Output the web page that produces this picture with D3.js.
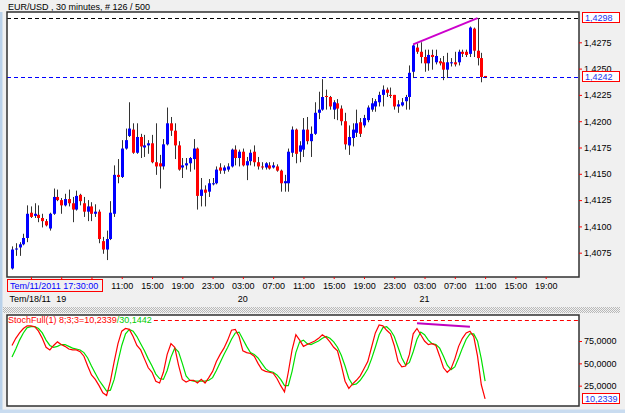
<!DOCTYPE html>
<html><head><meta charset="utf-8">
<script src="https://cdn.jsdelivr.net/npm/d3@7"></script>
<style>body{margin:0;background:#f0f0f0;overflow:hidden}svg{display:block;font-family:"Liberation Sans",Arial,sans-serif}</style>
</head><body><svg id="c" width="625" height="413"></svg>
<script>
// ---- data (EUR/USD, 30 minutes) ----
const openP = [
1.4060,1.4078,1.4080,1.4083,1.4089,1.4113,1.4110,1.4111,1.4108,1.4105,
1.4098,1.4112,1.4128,1.4125,1.4120,1.4126,1.4122,1.4116,1.4130,1.4122,
1.4114,1.4119,1.4112,1.4114,1.4086,1.4078,1.4088,1.4112,1.4149,1.4147,
1.4174,1.4186,1.4192,1.4170,1.4185,1.4175,1.4177,1.4179,1.4161,1.4160,
1.4157,1.4178,1.4198,1.4191,1.4177,1.4156,1.4158,1.4160,1.4164,1.4174,
1.4129,1.4135,1.4133,1.4140,1.4141,1.4156,1.4153,1.4154,1.4157,1.4173,
1.4165,1.4171,1.4158,1.4162,1.4171,1.4161,1.4157,1.4156,1.4158,1.4156,
1.4157,1.4153,1.4141,1.4141,1.4170,1.4192,1.4171,1.4173,1.4192,1.4181,
1.4188,1.4208,1.4211,1.4224,1.4223,1.4211,1.4217,1.4212,1.4200,1.4177,
1.4184,1.4189,1.4199,1.4196,1.4201,1.4211,1.4214,1.4218,1.4225,1.4230,
1.4225,1.4225,1.4214,1.4215,1.4219,1.4223,1.4247,1.4270,1.4266,1.4261,
1.4255,1.4263,1.4256,1.4257,1.4256,1.4249,1.4255,1.4256,1.4256,1.4266,
1.4266,1.4264,1.4288,1.4267,1.4260,1.4243];
const closeP = [
1.4078,1.4079,1.4083,1.4089,1.4112,1.4109,1.4112,1.4108,1.4105,1.4101,
1.4112,1.4128,1.4125,1.4120,1.4126,1.4122,1.4116,1.4129,1.4124,1.4114,
1.4119,1.4112,1.4114,1.4088,1.4078,1.4088,1.4113,1.4149,1.4147,1.4174,
1.4182,1.4193,1.4170,1.4185,1.4176,1.4177,1.4179,1.4161,1.4157,1.4157,
1.4178,1.4198,1.4191,1.4177,1.4154,1.4158,1.4160,1.4165,1.4174,1.4129,
1.4135,1.4132,1.4141,1.4141,1.4154,1.4153,1.4156,1.4157,1.4173,1.4165,
1.4171,1.4158,1.4162,1.4170,1.4161,1.4157,1.4156,1.4160,1.4155,1.4158,
1.4153,1.4141,1.4143,1.4171,1.4192,1.4169,1.4177,1.4192,1.4181,1.4188,
1.4208,1.4211,1.4223,1.4223,1.4214,1.4218,1.4212,1.4200,1.4178,1.4185,
1.4192,1.4198,1.4188,1.4203,1.4213,1.4217,1.4219,1.4225,1.4230,1.4227,
1.4224,1.4214,1.4216,1.4218,1.4223,1.4246,1.4272,1.4266,1.4261,1.4255,
1.4263,1.4261,1.4262,1.4255,1.4249,1.4256,1.4256,1.4254,1.4266,1.4264,
1.4263,1.4289,1.4267,1.4260,1.4242,1.4242];
const highP = [
1.4081,1.4084,1.4085,1.4093,1.4120,1.4119,1.4122,1.4120,1.4112,1.4107,
1.4113,1.4136,1.4135,1.4127,1.4131,1.4135,1.4128,1.4134,1.4131,1.4128,
1.4125,1.4123,1.4121,1.4116,1.4090,1.4096,1.4124,1.4158,1.4164,1.4182,
1.4193,1.4218,1.4198,1.4198,1.4188,1.4187,1.4182,1.4187,1.4198,1.4168,
1.4183,1.4213,1.4204,1.4198,1.4181,1.4165,1.4165,1.4166,1.4183,1.4175,
1.4146,1.4139,1.4145,1.4146,1.4157,1.4160,1.4158,1.4160,1.4174,1.4177,
1.4173,1.4174,1.4166,1.4173,1.4177,1.4166,1.4161,1.4161,1.4161,1.4161,
1.4159,1.4154,1.4149,1.4174,1.4195,1.4193,1.4181,1.4203,1.4204,1.4195,
1.4218,1.4228,1.4240,1.4230,1.4224,1.4220,1.4221,1.4215,1.4208,1.4196,
1.4198,1.4211,1.4203,1.4206,1.4215,1.4222,1.4221,1.4228,1.4234,1.4232,
1.4232,1.4225,1.4220,1.4222,1.4225,1.4253,1.4273,1.4274,1.4275,1.4268,
1.4268,1.4268,1.4268,1.4260,1.4262,1.4265,1.4260,1.4266,1.4268,1.4268,
1.4268,1.4290,1.4289,1.4298,1.4265,1.4243];
const lowP = [
1.4059,1.4072,1.4072,1.4082,1.4085,1.4108,1.4108,1.4104,1.4099,1.4100,
1.4096,1.4111,1.4124,1.4112,1.4119,1.4119,1.4104,1.4115,1.4120,1.4109,
1.4105,1.4105,1.4109,1.4084,1.4074,1.4068,1.4087,1.4109,1.4141,1.4146,
1.4173,1.4185,1.4169,1.4169,1.4165,1.4166,1.4169,1.4160,1.4149,1.4136,
1.4154,1.4177,1.4186,1.4164,1.4153,1.4146,1.4154,1.4152,1.4154,1.4116,
1.4119,1.4119,1.4128,1.4139,1.4140,1.4150,1.4150,1.4152,1.4156,1.4158,
1.4157,1.4157,1.4144,1.4158,1.4157,1.4154,1.4154,1.4154,1.4154,1.4155,
1.4152,1.4133,1.4133,1.4133,1.4166,1.4160,1.4161,1.4166,1.4178,1.4166,
1.4187,1.4202,1.4210,1.4211,1.4211,1.4202,1.4201,1.4196,1.4173,1.4168,
1.4176,1.4185,1.4185,1.4194,1.4199,1.4209,1.4209,1.4214,1.4214,1.4223,
1.4222,1.4211,1.4208,1.4214,1.4211,1.4211,1.4241,1.4264,1.4255,1.4247,
1.4248,1.4249,1.4254,1.4253,1.4239,1.4241,1.4252,1.4252,1.4253,1.4261,
1.4261,1.4261,1.4261,1.4253,1.4237,1.4241];
// StochFull(8;3;3) %K (red) and %D (green)
const stochK = [
70,78,84,89,92,92,91,86,78,68,
65,70,74,71,69,66,65,65,63,58,
47,37,32,25,17,14,30,52,72,86,
89,88,80,70,65,55,45,40,30,28,
40,60,72,68,48,32,29,31,31,28,
32,28,34,41,52,60,67,76,87,88,
80,64,62,61,58,50,43,41,40,39,
33,25,18,40,65,82,76,69,71,73,
75,78,82,79,74,68,64,48,30,22,
27,31,36,44,52,68,84,93,92,87,
83,70,52,46,47,60,83,89,82,75,
71,72,70,58,45,40,44,55,69,78,
84,86,80,58,26,10.2339];
const stochD = [
57,66,76,84,90,91,91,89,84,76,
70,68,69,71,71,69,67,66,65,62,
56,47,39,31,25,19,20,32,52,70,
83,88,86,80,72,64,55,47,38,33,
32,42,57,67,63,50,36,31,30,30,
30,30,31,34,42,51,60,68,77,84,
85,77,69,62,60,56,50,44,41,40,
37,32,25,25,41,62,74,76,72,71,
73,75,78,80,78,74,68,59,47,33,
26,27,31,37,44,55,68,82,90,91,
87,80,68,56,48,51,63,77,85,82,
76,72,71,67,58,48,43,46,56,67,
77,83,83,75,55,30.1442];
const stochLevel = 98;
const priceTicks = [1.4075,1.4100,1.4125,1.4150,1.4175,1.4200,1.4225,1.4250,1.4275];
const stochTicks = [25,50,75];
const timeTickIndex = [5,13,21,29,37,45,53,61,69,77,85,93,101,109,117,125,133,141];
const timeTickLabels = ["","","","11:00","15:00","19:00","23:00","03:00","07:00","11:00","15:00","19:00","23:00","03:00","07:00","11:00","15:00","19:00"];
const dateTickIndex = [13,61,109];
const dateTickLabels = ["19","20","21"];
const priceDivIndex = [106,123];
const priceDivValue = [1.4273,1.4298];
const stochDivIndex = [107,121];
const stochDivValue = [95,91];
const titleText = "EUR/USD , 30 minutes, # 126 / 500";
const cursorText = "Tem/11/2011 17:30:00";
const firstDateText = "Tem/18/11";

// ---- layout ----
const svg = d3.select("#c");
const L = 7, R = 579, PT = 12, PB = 277, ST = 315, SB = 406;
const n = closeP.length;
const x = d3.scaleLinear().domain([0, n - 1]).range([12, 485.1]);
const yP = d3.scaleLinear().domain([1.4075, 1.4275]).range([252.7, 42.3]);
const yS = d3.scaleLinear().domain([0, 75]).range([408, 341]);
const fmtP = d => d3.format(".4f")(d).replace(".", ",");
const FS = 9;

svg.append("rect").attr("width", 625).attr("height", 413).attr("fill", "#f0f0f0");
svg.append("rect").attr("x", 0).attr("y", 12).attr("width", 2.5).attr("height", 401).attr("fill", "#b9d1ea");
svg.append("rect").attr("x", 0).attr("y", 409.5).attr("width", 625).attr("height", 4).attr("fill", "#c9dcf0");

// splitter
const defs = svg.append("defs");
const pat = defs.append("pattern").attr("id", "dots").attr("width", 2).attr("height", 2).attr("patternUnits", "userSpaceOnUse");
pat.append("rect").attr("width", 2).attr("height", 2).attr("fill", "#f2f2f2");
pat.append("rect").attr("width", 1).attr("height", 1).attr("fill", "#b8b8b8");
pat.append("rect").attr("x", 1).attr("y", 1).attr("width", 1).attr("height", 1).attr("fill", "#b8b8b8");
svg.append("rect").attr("x", 3).attr("y", 307).attr("width", 617).attr("height", 6).attr("fill", "url(#dots)");

defs.append("clipPath").attr("id", "clipP").append("rect").attr("x", L).attr("y", PT).attr("width", R - L).attr("height", PB - PT);
defs.append("clipPath").attr("id", "clipS").append("rect").attr("x", L).attr("y", ST).attr("width", R - L).attr("height", SB - ST);

// panels
svg.append("rect").attr("x", L).attr("y", PT).attr("width", R - L).attr("height", PB - PT).attr("fill", "#fff");
svg.append("rect").attr("x", L).attr("y", ST).attr("width", R - L).attr("height", SB - ST).attr("fill", "#fff");

// title
svg.append("text").attr("x", 8).attr("y", 9.5).attr("font-size", FS).attr("fill", "#000").text(titleText);

// price panel
const gp = svg.append("g").attr("clip-path", "url(#clipP)");
const maxHigh = d3.max(highP);
const lastClose = closeP[n - 1];
gp.append("line").attr("x1", L).attr("x2", R).attr("y1", Math.round(yP(maxHigh)) + 0.5).attr("y2", Math.round(yP(maxHigh)) + 0.5)
  .attr("stroke", "#000").attr("stroke-dasharray", "4,3");
gp.append("line").attr("x1", L).attr("x2", R).attr("y1", Math.round(yP(lastClose)) + 0.5).attr("y2", Math.round(yP(lastClose)) + 0.5)
  .attr("stroke", "#0000ff").attr("stroke-width", 1.2).attr("stroke-dasharray", "4,3");

const idx = d3.range(n);
gp.selectAll("line.wick").data(idx).join("line").attr("class", "wick")
  .attr("x1", i => Math.round(x(i)) + 0.5).attr("x2", i => Math.round(x(i)) + 0.5)
  .attr("y1", i => yP(highP[i])).attr("y2", i => yP(lowP[i]))
  .attr("stroke", "#333").attr("stroke-width", 1);
gp.selectAll("rect.body").data(idx).join("rect").attr("class", "body")
  .attr("x", i => Math.round(x(i)) - 1).attr("width", 3)
  .attr("y", i => yP(Math.max(openP[i], closeP[i])))
  .attr("height", i => Math.max(1, Math.abs(yP(openP[i]) - yP(closeP[i]))))
  .attr("fill", i => closeP[i] >= openP[i] ? "#0000ff" : "#ff0000");

gp.append("line").attr("x1", x(priceDivIndex[0])).attr("y1", yP(priceDivValue[0]))
  .attr("x2", x(priceDivIndex[1])).attr("y2", yP(priceDivValue[1]))
  .attr("stroke", "#cc00cc").attr("stroke-width", 2);

svg.append("rect").attr("x", L).attr("y", PT).attr("width", R - L).attr("height", PB - PT)
  .attr("fill", "none").attr("stroke", "#303030").attr("stroke-width", 1.5);

// price axis
const gy = svg.append("g").attr("transform", `translate(${R},0)`)
  .call(d3.axisRight(yP).tickValues(priceTicks).tickFormat(fmtP).tickSize(3).tickPadding(2));
gy.attr("font-size", FS).attr("font-family", null);
gy.select(".domain").remove();
gy.selectAll(".tick line").attr("stroke", "#ff0000");
gy.selectAll(".tick text").attr("fill", "#000");

function valueBox(yv, label) {
  svg.append("rect").attr("x", 582.5).attr("y", Math.round(yv) - 5.5).attr("width", 37).attr("height", 10)
    .attr("fill", "#fff").attr("stroke", "#ff0000");
  svg.append("text").attr("x", 585).attr("y", Math.round(yv) + 3.2).attr("font-size", FS).attr("fill", "#2233ee").text(label);
}
valueBox(yP(maxHigh), fmtP(maxHigh));
valueBox(yP(lastClose), fmtP(lastClose));

// time axis
const gx = svg.append("g").attr("transform", `translate(0,${PB})`)
  .call(d3.axisBottom(x).tickValues(timeTickIndex).tickFormat((d, i) => timeTickLabels[i]).tickSize(2).tickPadding(3.5));
gx.attr("font-size", FS).attr("font-family", null);
gx.select(".domain").remove();
gx.selectAll(".tick line").attr("stroke", "#ff0000");
gx.selectAll(".tick text").attr("fill", "#000");

svg.selectAll("text.date").data(dateTickIndex).join("text").attr("class", "date")
  .attr("x", d => x(d)).attr("y", 301.5).attr("text-anchor", "middle").attr("font-size", FS).attr("fill", "#000")
  .text((d, i) => dateTickLabels[i]);
svg.append("text").attr("x", 9.5).attr("y", 301.5).attr("font-size", FS).attr("fill", "#000").text(firstDateText);

svg.append("rect").attr("x", 7.5).attr("y", 279.5).attr("width", 95).attr("height", 12).attr("fill", "#f0f0f0").attr("stroke", "#ff0000");
svg.append("text").attr("x", 10).attr("y", 289).attr("font-size", FS).attr("fill", "#0000ff").text(cursorText);

// stochastic panel
const gs = svg.append("g").attr("clip-path", "url(#clipS)");
const lbl = gs.append("text").attr("x", 8).attr("y", 323.3).attr("font-size", FS);
lbl.append("tspan").attr("fill", "#ff0000").text("StochFull(1) 8;3;3=" + d3.format(".4f")(stochK[n - 1]).replace(".", ","));
lbl.append("tspan").attr("fill", "#00cc00").text("/" + d3.format(".4f")(stochD[n - 1]).replace(".", ","));
const lblEnd = 8 + lbl.node().getComputedTextLength() + 2;
gs.append("line").attr("x1", lblEnd).attr("x2", R).attr("y1", Math.round(yS(stochLevel)) + 0.5).attr("y2", Math.round(yS(stochLevel)) + 0.5)
  .attr("stroke", "#ff0000").attr("stroke-dasharray", "4,3");

const lineK = d3.line().x((d, i) => x(i)).y(d => yS(d));
gs.append("path").datum(stochD).attr("d", lineK).attr("fill", "none").attr("stroke", "#00e000").attr("stroke-width", 1.2);
gs.append("path").datum(stochK).attr("d", lineK).attr("fill", "none").attr("stroke", "#ff0000").attr("stroke-width", 1.2);
gs.append("line").attr("x1", x(stochDivIndex[0])).attr("y1", yS(stochDivValue[0]))
  .attr("x2", x(stochDivIndex[1])).attr("y2", yS(stochDivValue[1]))
  .attr("stroke", "#c000c0").attr("stroke-width", 2);

svg.append("rect").attr("x", L).attr("y", ST).attr("width", R - L).attr("height", SB - ST)
  .attr("fill", "none").attr("stroke", "#303030").attr("stroke-width", 1.5);

const gsy = svg.append("g").attr("transform", `translate(${R},0)`)
  .call(d3.axisRight(yS).tickValues(stochTicks).tickFormat(fmtP).tickSize(3).tickPadding(2));
gsy.attr("font-size", FS).attr("font-family", null);
gsy.select(".domain").remove();
gsy.selectAll(".tick line").attr("stroke", "#ff0000");
gsy.selectAll(".tick text").attr("fill", "#000");
valueBox(yS(stochK[n - 1]), fmtP(stochK[n - 1]));
</script></body></html>
